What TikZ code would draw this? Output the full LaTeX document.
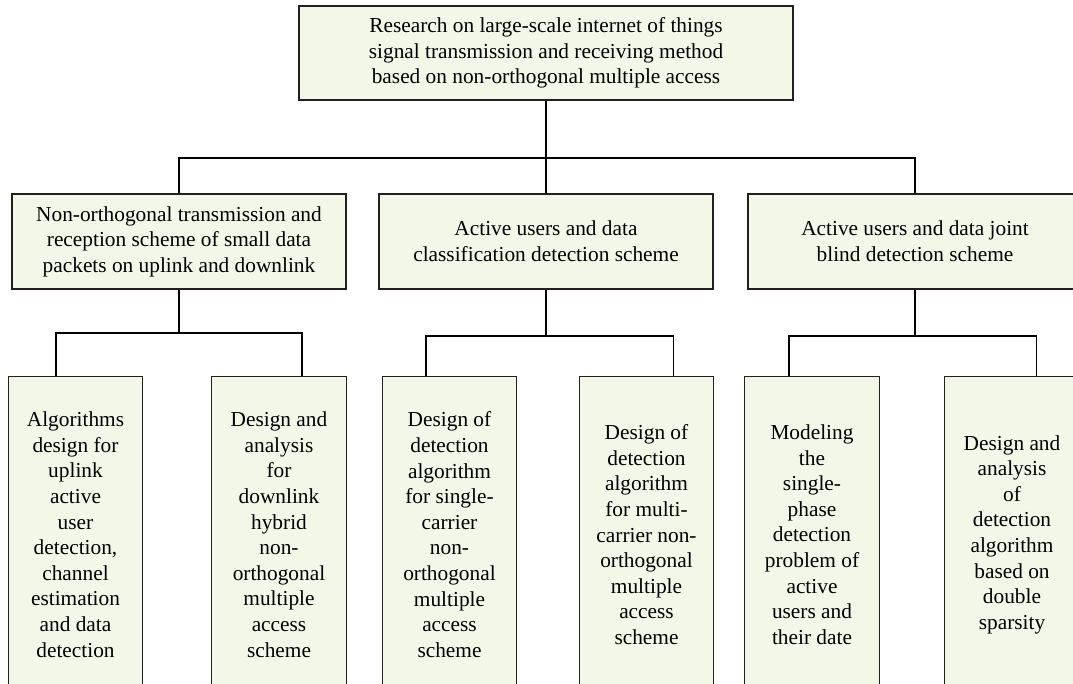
\documentclass[tikz,border=0pt]{standalone}
\usepackage{fontspec}
\setmainfont{Liberation Serif}
\usetikzlibrary{calc}
\definecolor{boxfill}{RGB}{243,247,232}
\definecolor{boxline}{RGB}{35,31,32}
\begin{document}
\begin{tikzpicture}[x=0.75pt,y=-0.75pt,
  box/.style={draw=boxline,fill=boxfill,line width=0.9pt,align=center,inner sep=0pt,
    font=\fontsize{16}{19.2}\selectfont},
  topbox/.style={box,minimum width=494*0.75pt,minimum height=94*0.75pt},
  midbox/.style={box,minimum width=334*0.75pt,minimum height=95*0.75pt},
  leafbox/.style={box,minimum width=134.5*0.75pt,minimum height=316*0.75pt,anchor=north},
  link/.style={draw=black,line width=1pt}]
\useasboundingbox (0,0) rectangle (1073,684);
% top
\node[topbox] (top) at (546,53) {Research on large-scale internet of things\\signal transmission and receiving method\\based on non-orthogonal multiple access};
% middle
\node[midbox] (m1) at (179,241.5) {Non-orthogonal transmission and\\reception scheme of small data\\packets on uplink and downlink};
\node[midbox] (m2) at (546,241.5) {Active users and data\\classification detection scheme};
\node[midbox] (m3) at (915,241.5) {Active users and data joint\\blind detection scheme};
% leaves
\node[leafbox] (a) at (75.5,376) {Algorithms\\design for\\uplink\\active\\user\\detection,\\channel\\estimation\\and data\\detection};
\node[leafbox] (b) at (279,376) {Design and\\analysis\\for\\downlink\\hybrid\\non-\\orthogonal\\multiple\\access\\scheme};
\node[leafbox] (c) at (449.5,376) {Design of\\detection\\algorithm\\for single-\\carrier\\non-\\orthogonal\\multiple\\access\\scheme};
\node[leafbox] (d) at (646.5,376) {Design of\\detection\\algorithm\\for multi-\\carrier non-\\orthogonal\\multiple\\access\\scheme};
\node[leafbox] (e) at (812,376) {Modeling\\the\\single-\\phase\\detection\\problem of\\active\\users and\\their date};
\node[leafbox] (f) at (1012,376) {Design and\\analysis\\of\\detection\\algorithm\\based on\\double\\sparsity};
% bar coordinates
\coordinate (tbar) at (546,158);
\coordinate (bar1) at (m1.south |- 0,333);
\coordinate (bar2) at (m2.south |- 0,336);
\coordinate (bar3) at (m3.south |- 0,336);
% attach points on leaves
\coordinate (pa) at ($(a.north west)!0.356!(a.north east)$);
\coordinate (pb) at ($(b.north west)!0.67!(b.north east)$);
\coordinate (pc) at ($(c.north west)!0.326!(c.north east)$);
\coordinate (pd) at ($(d.north west)!0.70!(d.north east)$);
\coordinate (pe) at ($(e.north west)!0.33!(e.north east)$);
\coordinate (pf) at ($(f.north west)!0.68!(f.north east)$);
% connectors
\draw[link] (top.south) -- (tbar);
\draw[link] (m1.north) |- (tbar) -| (m3.north);
\draw[link] (tbar) -- (m2.north);
\draw[link] (m1.south) -- (bar1);
\draw[link] (pa) |- (bar1) -| (pb);
\draw[link] (m2.south) -- (bar2);
\draw[link] (pc) |- (bar2) -| (pd);
\draw[link] (m3.south) -- (bar3);
\draw[link] (pe) |- (bar3) -| (pf);
\end{tikzpicture}
\end{document}
